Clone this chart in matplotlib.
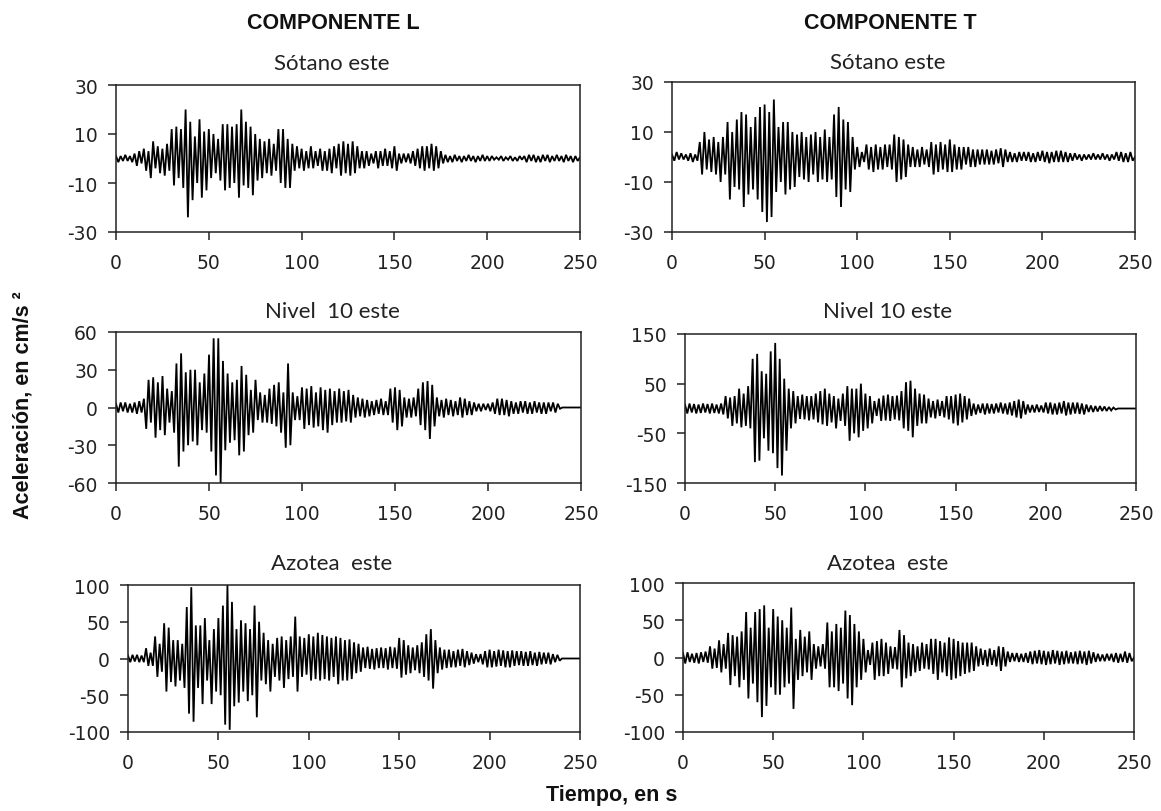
import numpy as np
import matplotlib
matplotlib.use("Agg")
import matplotlib.pyplot as plt

plt.rcParams["font.family"] = ["DejaVu Sans"]

# ---------------- data ----------------
dt = 1.25  # s between successive read peaks

sotano_L = [
    1, -1.5, 1, -1, 1.5, -1, 1, -1.5,
    2, -3, 3, -2, 4, -5, 3, -8,
    7, -4, 5, -6, 4, -7, 6, -5,
    12, -11, 13, -8, 12, -12, 20, -24,
    15, -17, 9, -10, 16, -16, 11, -13,
    12, -8, 10, -6, 8, -9, 14, -13,
    14, -12, 13, -10, 14, -16, 20, -11,
    15, -12, 13, -15, 10, -9, 8, -8,
    7, -6, 8, -7, 6, -5, 12, -10,
    12, -12, 8, -12, 6, -5, 5, -4,
    4, -5, 3, -4, 5, -4, 3, -3,
    4, -5, 3, -5, 4, -6, 5, -4,
    6, -7, 7, -6, 6, -7, 7, -6,
    5, -4, 3, -4, 3, -3, 2, -2,
    3, -4, 3, -3, 4, -3, 3, -4,
    5, -5, 2, -2, 2, -1.5, 2, -2,
    3, -3, 4, -4, 5, -5, 5, -4,
    6, -5, 5, -4, 3, -2, 1.5, -1.5,
    1, -1.5, 1.5, -1, 1, -1.5, 1, -1,
    1.5, -1, 1, -1.5, 1, -1, 1.5, -1,
    1, -1, 1, -0.5, 0.5, -0.5, 1, -1,
    0.5, -0.5, 1, -1, 0.5, -1, 1, -0.5,
    1, -1.5, 1.5, -1, 1.5, -1.5, 1, -1.5,
    1.5, -1, 1.5, -1.5, 1, -1, 1.5, -1,
    1, -1.5, 1.5, -1, 1, -1.5, 1, -1,
    0.5,
]

sotano_T = [
    1, -1.5, 2, -1, 1.5, -1, 1, -1.5,
    1.5, -2, 1, -1.5, 6, -7, 10, -5,
    7, -6, 8, -7, 6, -10, 8, -7,
    14, -17, 10, -12, 15, -13, 18, -20,
    17, -15, 12, -13, 16, -17, 20, -22,
    21, -26, 18, -24, 23, -14, 12, -10,
    14, -15, 14, -13, 10, -12, 9, -8,
    10, -9, 8, -10, 9, -7, 10, -10,
    8, -9, 11, -10, 8, -9, 17, -16,
    20, -20, 15, -13, 14, -14, 8, -5,
    4, -4, 2, -2, 5, -5, 4, -6,
    5, -5, 4, -5, 5, -4, 5, -5,
    9, -10, 8, -9, 7, -8, 5, -4,
    4, -4, 3, -4, 4, -3, 3, -4,
    6, -7, 5, -6, 6, -5, 5, -6,
    7, -6, 5, -5, 4, -5, 4, -3,
    4, -4, 3, -4, 3, -3, 3, -3,
    3, -3, 2.5, -3, 3, -2.5, 3.5, -4,
    3, -2, 2, -2, 1.5, -2, 2, -1.5,
    2, -1.5, 2, -2, 1.5, -2, 2, -1.5,
    2.5, -2, 2, -2.5, 2, -2, 2.5, -2,
    2.5, -2, 2, -2, 1.5, -1.5, 1.5, -1,
    1, -1.5, 1, -1, 1, -1, 1.5, -1,
    1, -1, 1.5, -1, 1, -1.5, 1, -1,
    2, -1.5, 2, -2, 1.5, -2, 2, -1.5,
    0,
]

nivel10_L = [
    3, -4, 4, -3, 4, -4, 3, -4,
    4, -5, 5, -4, 7, -17, 22, -12,
    24, -24, 20, -18, 25, -22, 15, -12,
    13, -20, 35, -47, 43, -35, 28, -30,
    30, -27, 30, -30, 20, -18, 27, -20,
    42, -35, 55, -54, 55, -60, 37, -34,
    27, -28, 20, -26, 22, -38, 33, -35,
    26, -22, 14, -20, 22, -10, 12, -12,
    10, -12, 15, -13, 18, -15, 20, -20,
    12, -32, 35, -30, 12, -10, 9, -10,
    16, -17, 15, -14, 17, -16, 12, -15,
    16, -18, 14, -20, 15, -14, 13, -12,
    15, -12, 13, -11, 14, -12, 10, -8,
    8, -7, 7, -8, 6, -7, 5, -6,
    6, -5, 7, -6, 5, -6, 15, -12,
    16, -18, 14, -15, 8, -8, 7, -8,
    8, -7, 15, -14, 20, -18, 21, -25,
    18, -15, 8, -7, 6, -8, 7, -6,
    6, -7, 5, -6, 8, -8, 7, -6,
    5, -6, 4, -3, 3, -3, 3, -2,
    3, -3, 4, -5, 7, -6, 7, -6,
    6, -7, 5, -5, 4, -5, 5, -4,
    5, -5, 4, -5, 5, -4, 4, -5,
    4, -5, 4, -3, 4, -4, 3, -1,
    0, 0, 0, 0, 0, 0, 0, 0,
    0,
]

nivel10_T = [
    8, -10, 10, -8, 9, -10, 8, -9,
    10, -8, 9, -10, 10, -9, 8, -10,
    10, -12, 25, -20, 22, -35, 25, -30,
    40, -38, 30, -35, 45, -40, 100, -108,
    110, -105, 75, -60, 70, -85, 115, -90,
    132, -120, 100, -135, 60, -85, 40, -40,
    35, -30, 25, -21, 28, -22, 25, -24,
    25, -22, 30, -28, 35, -32, 40, -35,
    30, -28, 25, -40, 20, -25, 30, -35,
    45, -65, 40, -50, 40, -58, 50, -45,
    30, -40, 25, -30, 15, -15, 20, -25,
    26, -24, 28, -25, 25, -22, 26, -24,
    35, -40, 53, -45, 56, -58, 40, -35,
    30, -30, 28, -30, 20, -18, 15, -20,
    18, -15, 15, -18, 25, -22, 25, -30,
    28, -34, 30, -28, 25, -22, 20, -15,
    10, -12, 8, -9, 10, -12, 10, -10,
    9, -10, 10, -8, 12, -10, 10, -12,
    12, -14, 15, -18, 18, -20, 15, -12,
    8, -8, 7, -8, 8, -7, 6, -8,
    12, -10, 12, -12, 10, -12, 12, -10,
    15, -14, 12, -12, 12, -10, 12, -11,
    10, -12, 8, -7, 6, -7, 5, -6,
    5, -5, 4, -5, 3, -4, 2, -2,
    0, 0, 0, 0, 0, 0, 0, 0,
    0,
]

azotea_L = [
    4, -5, 5, -4, 5, -5, 4, -5,
    14, -10, 8, -10, 30, -25, 20, -18,
    48, -45, 42, -32, 25, -38, 25, -30,
    20, -40, 70, -75, 97, -86, 45, -40,
    45, -62, 55, -30, 25, -62, 40, -45,
    55, -50, 72, -90, 100, -97, 77, -65,
    40, -60, 52, -45, 48, -58, 40, -50,
    72, -80, 50, -30, 35, -35, 25, -45,
    20, -25, 28, -30, 30, -40, 25, -28,
    30, -25, 57, -45, 30, -25, 28, -22,
    33, -30, 30, -28, 35, -30, 32, -28,
    30, -30, 28, -25, 30, -35, 28, -30,
    25, -30, 26, -28, 22, -20, 20, -18,
    15, -13, 16, -14, 13, -15, 14, -13,
    15, -13, 14, -15, 16, -13, 15, -14,
    28, -26, 25, -22, 18, -20, 15, -16,
    18, -20, 22, -25, 33, -30, 40, -41,
    25, -20, 15, -15, 12, -13, 12, -12,
    10, -12, 12, -10, 13, -12, 10, -9,
    8, -7, 6, -5, 6, -8, 10, -12,
    12, -12, 10, -11, 12, -10, 11, -12,
    10, -12, 11, -10, 10, -9, 10, -10,
    9, -10, 10, -9, 8, -10, 9, -8,
    8, -7, 8, -8, 6, -5, 5, -3,
    0, 0, 0, 0, 0, 0, 0, 0,
    0,
]

azotea_T = [
    6, -8, 7, -6, 5, -7, 6, -8,
    7, -6, 8, -7, 15, -15, 12, -14,
    23, -20, 18, -15, 33, -37, 30, -25,
    28, -40, 35, -30, 61, -55, 40, -35,
    61, -60, 65, -80, 70, -65, 40, -40,
    65, -50, 55, -50, 50, -40, 40, -35,
    67, -69, 25, -30, 37, -25, 28, -20,
    35, -30, 18, -15, 15, -12, 18, -15,
    47, -40, 35, -40, 45, -45, 40, -35,
    63, -55, 57, -64, 45, -40, 35, -30,
    25, -20, 10, -10, 20, -30, 22, -25,
    25, -25, 20, -22, 15, -15, 14, -16,
    37, -40, 30, -28, 20, -25, 18, -20,
    15, -18, 20, -15, 18, -16, 25, -22,
    25, -30, 22, -20, 20, -25, 27, -30,
    25, -28, 22, -25, 20, -22, 20, -20,
    20, -18, 15, -12, 12, -10, 10, -12,
    12, -10, 10, -12, 15, -18, 14, -12,
    8, -6, 6, -5, 6, -6, 5, -6,
    6, -7, 8, -9, 9, -8, 10, -9,
    9, -10, 8, -9, 10, -8, 9, -10,
    8, -9, 9, -8, 7, -8, 8, -9,
    9, -8, 8, -10, 9, -8, 7, -6,
    5, -5, 4, -5, 5, -4, 5, -6,
    6, -7, 5, -6, 8, -7, 6, -5,
    0,
]

x_ticks = [0, 50, 100, 150, 200, 250]
yt_sotano = [-30, -10, 10, 30]
yt_nivel_L = [-60, -30, 0, 30, 60]
yt_nivel_T = [-150, -50, 50, 150]
yt_azotea = [-100, -50, 0, 50, 100]

col_titles = ["COMPONENTE L", "COMPONENTE T"]
titles_L = ["Sótano este", "Nivel  10 este", "Azotea  este"]
titles_T = ["Sótano este", "Nivel 10 este", "Azotea  este"]
ylabel = "Aceleración, en cm/s ²"
xlabel = "Tiempo, en s"

# ---------------- layout ----------------
W, H = 1161, 812
fig = plt.figure(figsize=(W / 100, H / 100), dpi=100)


def rect(l, r, top, bot):
    return [l / W, 1 - bot / H, (r - l) / W, (bot - top) / H]


panels = [
    # (data, yticks, title, rect px, title x, title baseline y)
    (sotano_L, yt_sotano, titles_L[0], (116, 580, 86, 233), 332, 70),
    (sotano_T, yt_sotano, titles_T[0], (672, 1135, 83, 233), 888, 69),
    (nivel10_L, yt_nivel_L, titles_L[1], (116, 581, 333, 484), 332, 318),
    (nivel10_T, yt_nivel_T, titles_T[1], (685, 1136, 335, 484), 888, 318),
    (azotea_L, yt_azotea, titles_L[2], (128, 580, 586, 733), 332, 570),
    (azotea_T, yt_azotea, titles_T[2], (683, 1134, 584, 733), 888, 570),
]

tick_font = dict(family="DejaVu Sans", size=13.5, color="#222222")
for vals, yt, title, (l, r, top, bot), tx, ty in panels:
    ax = fig.add_axes(rect(l, r, top, bot))
    t = np.arange(len(vals)) * dt
    ax.plot(t, vals, color="black", lw=1.3, solid_joinstyle="miter")
    ax.set_xlim(0, 250)
    ax.set_ylim(yt[0], yt[-1])
    ax.set_xticks(x_ticks)
    ax.set_yticks(yt)
    ax.set_xticklabels([str(v) for v in x_ticks], **tick_font)
    ax.set_yticklabels([str(v) for v in yt], **tick_font)
    ax.tick_params(axis="both", direction="out", length=6, width=1.1,
                   color="#222222")
    ax.tick_params(axis="x", pad=9)
    ax.tick_params(axis="y", pad=7)
    for s in ax.spines.values():
        s.set_linewidth(1.1)
        s.set_color("#222222")
    fig.text(tx / W, 1 - ty / H, title, ha="center", va="baseline",
             family="Lato", fontsize=16, color="#222222")

fig.text(333 / W, 1 - 29 / H, col_titles[0], ha="center", va="baseline",
         family="Liberation Sans", weight="bold", fontsize=15.5, color="#111111")
fig.text(890 / W, 1 - 29 / H, col_titles[1], ha="center", va="baseline",
         family="Liberation Sans", weight="bold", fontsize=15.5, color="#111111")
fig.text(23 / W, 1 - 405 / H, ylabel, ha="center", va="center", rotation=90,
         family="Liberation Sans", weight="bold", fontsize=15.5, color="#111111")
fig.text(612 / W, 1 - 796 / H, xlabel, ha="center", va="center",
         family="Liberation Sans", weight="bold", fontsize=15.5, color="#111111")

fig.savefig("out.png", dpi=100)
